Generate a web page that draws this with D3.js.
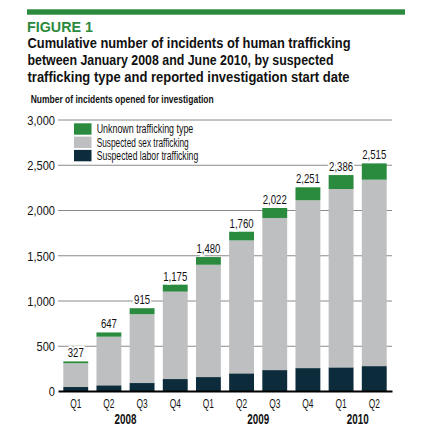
<!DOCTYPE html>
<html>
<head>
<meta charset="utf-8">
<script src="https://cdn.jsdelivr.net/npm/d3@7/dist/d3.min.js"></script>
<style>
  html, body { margin: 0; padding: 0; background: #fff; }
  svg { display: block; }
  .nar { font-family: "Liberation Sans", Arial, sans-serif; }
</style>
</head>
<body>
<svg id="chart" width="425" height="433"></svg>
<script>
// ---- data ----
const quarters = ["Q1", "Q2", "Q3", "Q4", "Q1", "Q2", "Q3", "Q4", "Q1", "Q2"];
const years = ["2008", "2009", "2010"];
const yearSpans = [[0, 3], [4, 7], [8, 9]];
const laborValues = [44, 63, 88, 132, 154, 195, 231, 253, 261, 275];
const sexValues = [263, 537, 761, 966, 1241, 1469, 1681, 1855, 1971, 2060];
const unknownValues = [20, 47, 66, 77, 85, 96, 110, 143, 154, 180];
const totalLabels = [327, 647, 915, 1175, 1480, 1760, 2022, 2251, 2386, 2515];
const yTicks = [0, 500, 1000, 1500, 2000, 2500, 3000];
const seriesNames = ["Suspected labor trafficking", "Suspected sex trafficking", "Unknown trafficking type"];
const legendOrder = ["Unknown trafficking type", "Suspected sex trafficking", "Suspected labor trafficking"];

// ---- styles ----
const colors = {
  "Suspected labor trafficking": "#0c2b3b",
  "Suspected sex trafficking": "#bebfc1",
  "Unknown trafficking type": "#2a8a3e"
};
const GREEN = "#2b8a3e";
const TXT = "#111";

const svg = d3.select("#chart");

// condense helper: shrink text horizontally to mimic a condensed face
function squeeze(sel, factor) {
  sel.each(function () {
    const w = this.getComputedTextLength();
    d3.select(this).attr("textLength", w * factor).attr("lengthAdjust", "spacingAndGlyphs");
  });
}

// header
svg.append("rect").attr("x", 27).attr("y", 9.3).attr("width", 378).attr("height", 5.4).attr("fill", GREEN);
svg.append("text").attr("x", 27).attr("y", 31.7)
  .attr("font-family", "Liberation Sans, Arial, sans-serif").attr("font-weight", "bold")
  .attr("font-size", 15.5).attr("fill", GREEN)
  .attr("textLength", 66).attr("lengthAdjust", "spacingAndGlyphs")
  .text("FIGURE 1");

const titleLines = [
  ["Cumulative number of incidents of human trafficking", 47.7, 323],
  ["between January 2008 and June 2010, by suspected", 65, 306],
  ["trafficking type and reported investigation start date", 82.3, 322]
];
titleLines.forEach(([t, y, w]) => {
  svg.append("text").attr("class", "nar").attr("x", 27.5).attr("y", y)
    .attr("font-weight", "bold").attr("font-size", 14).attr("fill", TXT)
    .attr("textLength", w).attr("lengthAdjust", "spacingAndGlyphs")
    .text(t);
});
svg.append("text").attr("class", "nar").attr("x", 30.7).attr("y", 102.7)
  .attr("font-weight", "bold").attr("font-size", 10).attr("fill", TXT)
  .attr("textLength", 183).attr("lengthAdjust", "spacingAndGlyphs")
  .text("Number of incidents opened for investigation");

// ---- scales ----
const x = d3.scaleBand().domain(d3.range(quarters.length)).range([58, 392])
  .paddingInner(0.25).paddingOuter(0.16);
const y = d3.scaleLinear().domain([0, 3000]).range([391, 119.5]);

// y axis with gridlines
const yAxis = svg.append("g").attr("transform", "translate(58,0)")
  .call(d3.axisLeft(y).tickValues(yTicks).tickFormat(d3.format(",")).tickSize(-334).tickPadding(3));
yAxis.select(".domain").remove();
yAxis.selectAll(".tick line").attr("stroke", "#8a8a8a").attr("stroke-width", 1)
  .filter(d => d === 0).remove();
yAxis.selectAll(".tick text").attr("class", "nar").attr("font-size", 13.5).attr("fill", TXT)
  .attr("font-family", null).attr("dy", "0.36em");
squeeze(yAxis.selectAll(".tick text"), 0.82);

// stacked bars
const table = quarters.map((q, i) => ({
  "Suspected labor trafficking": laborValues[i],
  "Suspected sex trafficking": sexValues[i],
  "Unknown trafficking type": unknownValues[i],
  i: i
}));
const stack = d3.stack().keys(seriesNames)(table);
svg.append("g").selectAll("g").data(stack).join("g")
  .attr("fill", d => colors[d.key])
  .selectAll("rect").data(d => d).join("rect")
  .attr("x", d => x(d.data.i))
  .attr("width", x.bandwidth())
  .attr("y", d => y(d[1]))
  .attr("height", d => y(d[0]) - y(d[1]));

// total labels
const totals = svg.append("g").selectAll("text").data(totalLabels).join("text")
  .attr("class", "nar")
  .attr("x", (d, i) => x(i) + x.bandwidth() / 2)
  .attr("y", d => y(d) - 4)
  .attr("text-anchor", "middle")
  .attr("font-size", 13.5).attr("fill", TXT)
  .attr("stroke", "#fff").attr("stroke-width", 4).attr("paint-order", "stroke")
  .text(d => d3.format(",")(d));
squeeze(totals, 0.71);

// x axis
const xAxis = svg.append("g").attr("transform", "translate(0,391)")
  .call(d3.axisBottom(x).tickFormat(i => quarters[i]).tickSize(0).tickPadding(7));
xAxis.select(".domain").attr("stroke", "#000").attr("stroke-width", 2.2);
xAxis.selectAll(".tick text").attr("class", "nar").attr("font-size", 13.5).attr("fill", TXT)
  .attr("font-family", null);
squeeze(xAxis.selectAll(".tick text"), 0.62);

// years
const yr = svg.append("g").selectAll("text").data(years).join("text")
  .attr("class", "nar")
  .attr("x", (d, k) => (x(yearSpans[k][0]) + x(yearSpans[k][1]) + x.bandwidth()) / 2)
  .attr("y", 424)
  .attr("text-anchor", "middle")
  .attr("font-weight", "bold").attr("font-size", 14.5).attr("fill", TXT)
  .text(d => d);
squeeze(yr, 0.68);

// legend
const legend = svg.append("g");
const legendW = [96.6, 92, 101.5];
legendOrder.forEach((name, k) => {
  const yy = 123.3 + k * 13.3;
  legend.append("rect").attr("x", 74).attr("y", yy).attr("width", 17.5).attr("height", 11.4)
    .attr("fill", colors[name]);
  legend.append("text").attr("class", "nar").attr("x", 96.7).attr("y", yy + 10)
    .attr("font-size", 12.5).attr("fill", TXT)
    .attr("textLength", legendW[k]).attr("lengthAdjust", "spacingAndGlyphs")
    .text(name);
});
</script>
</body>
</html>
